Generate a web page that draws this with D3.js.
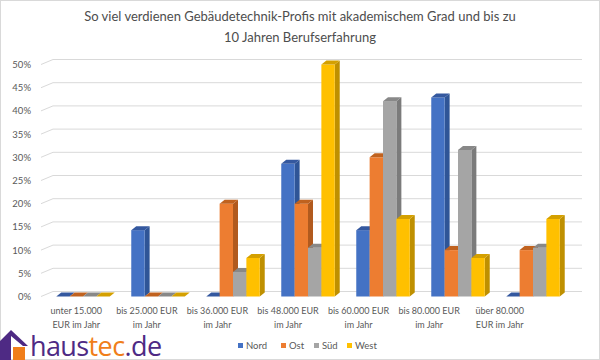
<!DOCTYPE html>
<html><head><meta charset="utf-8">
<script src="https://cdn.jsdelivr.net/npm/d3@7"></script>
<style>body{margin:0;background:#fff}svg{display:block}</style>
</head><body><svg id="c" width="600" height="360"></svg>
<script>
const title = ["So viel verdienen Gebäudetechnik-Profis mit akademischem Grad und bis zu", "10 Jahren Berufserfahrung"];
const categories = ["unter 15.000 EUR im Jahr","bis 25.000 EUR im Jahr","bis 36.000 EUR im Jahr","bis 48.000 EUR im Jahr","bis 60.000 EUR im Jahr","bis 80.000 EUR im Jahr","über 80.000 EUR im Jahr"];
const categoryLines = [["unter 15.000","EUR im Jahr"],["bis 25.000 EUR","im Jahr"],["bis 36.000 EUR","im Jahr"],["bis 48.000 EUR","im Jahr"],["bis 60.000 EUR","im Jahr"],["bis 80.000 EUR","im Jahr"],["über 80.000","EUR im Jahr"]];
const seriesNames = ["Nord","Ost","Süd","West"];
const nord = [0,14.3,0,28.6,14.3,42.9,0];
const ost  = [0,0,20,20,30,10,10];
const sued = [0,0,5.3,10.5,42.1,31.6,10.5];
const west = [0,0,8.3,50,16.7,8.3,16.7];
const yTicks = [0,5,10,15,20,25,30,35,40,45,50];

const seriesValues = [nord, ost, sued, west];
const colors = {front:["#4472C4","#ED7D31","#A5A5A5","#FFC000"], side:["#2F5597","#B15A1E","#7B7B7B","#BF9000"], top:["#34589F","#C0621F","#888888","#D4A000"]};

const svg = d3.select("#c");
const font = "Lato, 'Open Sans', sans-serif";
svg.append("rect").attr("x",0.5).attr("y",0.5).attr("width",599).attr("height",359).attr("fill","#fff").attr("stroke","#D9D9D9");

svg.append("g").selectAll("text").data(title).join("text")
  .attr("x",300).attr("y",(d,i)=>21+i*21).attr("text-anchor","middle")
  .attr("font-family",font).attr("font-size",13).attr("fill","#4D4D4D").text(d=>d);

const y = d3.scaleLinear().domain([0,50]).range([296.5,64.5]);
const x = d3.scaleBand().domain(categories).range([45.5,570.5]).paddingInner(0.287).paddingOuter(0.1435);
const xs = d3.scaleBand().domain(seriesNames).range([0,x.bandwidth()]);
const xl = d3.scaleBand().domain(categories).range([41,535]);

const wallDx = 12, wallDy = -5, dx = 5, dy = -4;
const grid = svg.append("g");
yTicks.forEach(t=>{
  grid.append("line").attr("x1",41).attr("y1",y(t)).attr("x2",41+wallDx).attr("y2",y(t)+wallDy).attr("stroke","#D9D9D9");
  grid.append("line").attr("x1",41+wallDx).attr("y1",y(t)+wallDy).attr("x2",582).attr("y2",y(t)+wallDy).attr("stroke","#D9D9D9");
});
svg.append("g").selectAll("text").data(yTicks).join("text")
  .attr("x",31).attr("y",d=>y(d)+3.5).attr("text-anchor","end")
  .attr("font-family",font).attr("font-size",9.5).attr("fill","#595959").text(d=>d+"%");

const bars = svg.append("g");
categories.forEach((c,ci)=>{
  seriesNames.forEach((s,si)=>{
    const v = seriesValues[si][ci];
    const x0 = x(c)+xs(s), w = xs.bandwidth(), yt = y(v), yb = y(0);
    const g = bars.append("g");
    if (v>0){
      g.append("path").attr("d",`M${x0+w},${yt}L${x0+w+dx},${yt+dy}L${x0+w+dx},${yb+dy}L${x0+w},${yb}Z`).attr("fill",colors.side[si]);
      g.append("rect").attr("x",x0).attr("y",yt).attr("width",w).attr("height",yb-yt).attr("fill",colors.front[si]);
    }
    g.append("path").attr("d",`M${x0},${yt}L${x0+dx},${yt+dy}L${x0+w+dx},${yt+dy}L${x0+w},${yt}Z`).attr("fill",colors.top[si]);
  });
});

const xlab = svg.append("g");
categoryLines.forEach((lines,ci)=>{
  lines.forEach((t,li)=>{
    xlab.append("text").attr("x",xl(categories[ci])+xl.bandwidth()/2).attr("y",314+li*14)
      .attr("text-anchor","middle").attr("font-family",font).attr("font-size",9).attr("fill","#595959").text(t);
  });
});

// legend
const legendX = [238,281,314,347];
const lg = svg.append("g");
seriesNames.forEach((s,i)=>{
  lg.append("rect").attr("x",legendX[i]).attr("y",343).attr("width",5).attr("height",5).attr("fill",colors.front[i]);
  lg.append("text").attr("x",legendX[i]+8).attr("y",349).attr("font-family",font).attr("font-size",9.5).attr("fill","#595959").text(s);
});

// logo
const logo = svg.append("g");
logo.append("path").attr("d","M0,341 L11,330 L28,346 L23,346 L11,336 L11,360 L0,360 Z").attr("fill","#4E2A84");
logo.append("path").attr("d","M13,347 L25,347 L25,360 L13,360 Z").attr("fill","#F07E1A");
const lt = logo.append("text").attr("x",30).attr("y",356).attr("font-family","'Open Sans', sans-serif").attr("font-size",27).attr("letter-spacing",-0.6);
lt.append("tspan").attr("fill","#4E2A84").text("haus");
lt.append("tspan").attr("fill","#F07E1A").text("tec");
lt.append("tspan").attr("fill","#4E2A84").text(".de");
</script></body></html>
